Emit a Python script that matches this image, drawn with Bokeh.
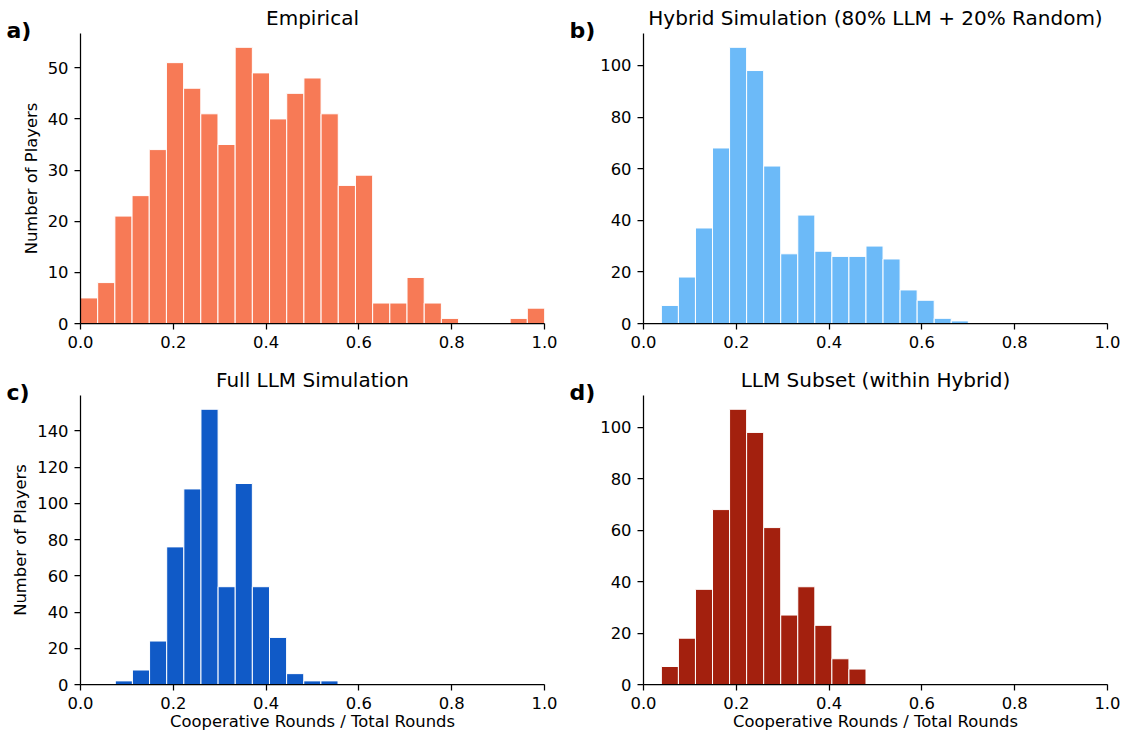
import numpy as np
from bokeh.plotting import figure
from bokeh.models import Range1d, FixedTicker, NumeralTickFormatter, Title
from bokeh.layouts import column, row
from bokeh.embed import file_html
from bokeh.resources import INLINE

# ---------------- data ----------------
x_ticks = [0.0, 0.2, 0.4, 0.6, 0.8, 1.0]

empirical_counts = [5, 8, 21, 25, 34, 51, 46, 41, 35, 54, 49, 40, 45, 48, 41,
                    27, 29, 4, 4, 9, 4, 1, 0, 0, 0, 1, 3]
empirical_bin_range = [0.0, 1.0]

hybrid_counts = [7, 18, 37, 68, 107, 98, 61, 27, 42, 28, 26, 26, 30, 25, 13, 9, 2, 1]
hybrid_bin_range = [0.0385, 0.700]

full_llm_counts = [2, 8, 24, 76, 108, 152, 54, 111, 54, 26, 6, 2, 2]
full_llm_bin_range = [0.075, 0.555]

llm_subset_counts = [7, 18, 37, 68, 107, 98, 61, 27, 38, 23, 10, 6]
llm_subset_bin_range = [0.0385, 0.4795]

empirical_yticks = [0, 10, 20, 30, 40, 50]
hybrid_yticks = [0, 20, 40, 60, 80, 100]
full_llm_yticks = [0, 20, 40, 60, 80, 100, 120, 140]
llm_subset_yticks = [0, 20, 40, 60, 80, 100]

titles = ["Empirical", "Hybrid Simulation (80% LLM + 20% Random)",
          "Full LLM Simulation", "LLM Subset (within Hybrid)"]
letters = ["a)", "b)", "c)", "d)"]
colors = ["#F77A56", "#6CBAF8", "#105AC7", "#A3200E"]
x_label = "Cooperative Rounds / Total Rounds"
y_label = "Number of Players"

FONT = "DejaVu Sans"
TICK_SIZE = "16.4px"
TITLE_SIZE = "20px"
LETTER_SIZE = "22px"


def make_panel(counts, bin_range, yticks, color, title, letter,
               width, height, bl, br, bt, bb, xlabel=None, ylabel=None):
    n = len(counts)
    edges = np.linspace(bin_range[0], bin_range[1], n + 1)
    ymax = max(counts) * 1.05
    p = figure(width=width, height=height,
               x_range=Range1d(0, 1), y_range=Range1d(0, ymax),
               output_backend="svg", toolbar_location=None, title=None,
               min_border_left=bl, min_border_right=br,
               min_border_top=bt, min_border_bottom=bb)

    # panel letter (innermost above-panel), then the title above it
    p.add_layout(Title(text=letter, align="left", offset=-74,
                       text_font=FONT, text_font_size=LETTER_SIZE,
                       text_font_style="bold", text_color="black",
                       vertical_align="top", standoff=-22), "above")
    p.add_layout(Title(text=title, align="center",
                       text_font=FONT, text_font_size=TITLE_SIZE,
                       text_font_style="normal", text_color="black",
                       vertical_align="bottom", standoff=-3.2), "above")

    p.quad(left=edges[:-1], right=edges[1:], top=counts, bottom=0,
           fill_color=color, line_color="white", line_width=1)

    p.outline_line_color = None
    p.xgrid.visible = False
    p.ygrid.visible = False
    p.background_fill_color = "white"
    p.border_fill_color = "white"

    p.xaxis.ticker = FixedTicker(ticks=x_ticks)
    p.xaxis.formatter = NumeralTickFormatter(format="0.0")
    p.yaxis.ticker = FixedTicker(ticks=yticks)

    for ax in (p.xaxis[0], p.yaxis[0]):
        ax.axis_line_color = "black"
        ax.axis_line_width = 1.25
        ax.major_tick_line_color = "black"
        ax.major_tick_line_width = 1.25
        ax.major_tick_out = 6
        ax.major_tick_in = 0
        ax.minor_tick_out = 0
        ax.minor_tick_in = 0
        ax.major_label_standoff = 6
        ax.major_label_text_font = FONT
        ax.major_label_text_font_size = TICK_SIZE
        ax.major_label_text_color = "black"
        ax.axis_label_text_font = FONT
        ax.axis_label_text_font_size = TICK_SIZE
        ax.axis_label_text_font_style = "normal"
        ax.axis_label_text_color = "black"

    if xlabel:
        p.xaxis.axis_label = xlabel
        p.xaxis.axis_label_standoff = 0
    if ylabel:
        p.yaxis.axis_label = ylabel
        p.yaxis.axis_label_standoff = 4
    return p


pa = make_panel(empirical_counts, empirical_bin_range, empirical_yticks, colors[0],
                titles[0], letters[0], 564, 364, 80, 20, 33, 41, ylabel=y_label)
pb = make_panel(hybrid_counts, hybrid_bin_range, hybrid_yticks, colors[1],
                titles[1], letters[1], 556, 364, 79, 13, 33, 41)
pc = make_panel(full_llm_counts, full_llm_bin_range, full_llm_yticks, colors[2],
                titles[2], letters[2], 564, 372, 80, 20, 31, 52,
                xlabel=x_label, ylabel=y_label)
pd = make_panel(llm_subset_counts, llm_subset_bin_range, llm_subset_yticks, colors[3],
                titles[3], letters[3], 556, 372, 79, 13, 31, 52, xlabel=x_label)

layout = column(row(pa, pb), row(pc, pd))

open("out.html", "w").write(file_html(layout, INLINE))
